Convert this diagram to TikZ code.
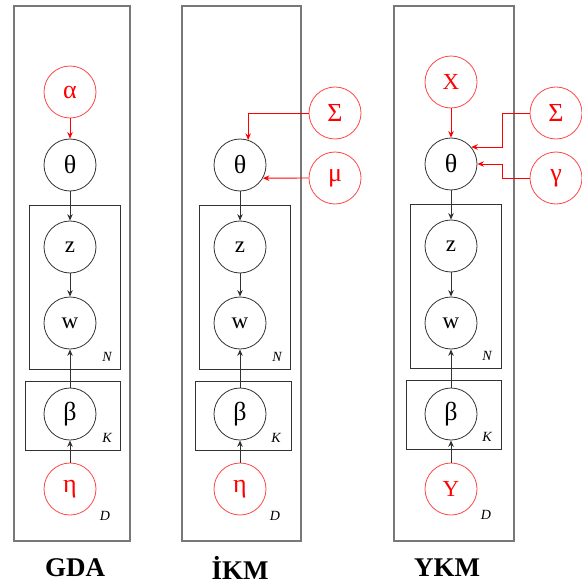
\documentclass[tikz,border=0pt]{standalone}
\usepackage{fontspec}
\setmainfont{Liberation Serif}
\usetikzlibrary{arrows.meta}
\definecolor{rd}{RGB}{255,0,0}
\definecolor{rdl}{RGB}{255,70,70}
\definecolor{outergray}{RGB}{120,120,120}
\definecolor{dk}{RGB}{50,50,50}
\begin{document}
\begin{tikzpicture}[x=1pt,y=-1pt,
  var/.style={circle,draw=dk,line width=0.8pt,minimum size=52pt,inner sep=0pt,font=\fontsize{26}{26}\selectfont},
  latvar/.style={var,font=\fontsize{23}{23}\selectfont},
  hyper/.style={var,draw=rdl,text=rd},
  lathyper/.style={latvar,draw=rdl,text=rd},
  outerplate/.style={draw=outergray,line width=1.6pt},
  plate/.style={draw=dk,line width=1pt},
  lab/.style={font=\fontsize{14}{14}\selectfont\itshape},
  ttl/.style={font=\fontsize{27}{27}\selectfont\bfseries},
  arr/.style={-{Stealth[length=6.5pt,width=5.5pt]},draw=dk,line width=0.9pt},
  rarr/.style={-{Stealth[length=6.5pt,width=5.5pt]},draw=rd,line width=0.9pt}]
\useasboundingbox (0,0) rectangle (581,585);

% ---------- GDA ----------
\draw[outerplate] (14,6) rectangle (130,541);
\draw[plate] (29,205) rectangle (120,369);
\draw[plate] (25.5,381) rectangle (120.5,450);
\node[hyper] (a1) at (70,92) {α};
\node[var] (t1) at (70,165) {θ};
\node[latvar] (z1) at (70,247) {z};
\node[latvar] (w1) at (70,323) {w};
\node[var] (b1) at (70,414) {β};
\node[hyper] (e1) at (70,489) {η};
\node[lab] (n1) at (107,357) {N};
\node[lab] (k1) at (107,438) {K};
\node[lab] (d1) at (105,516) {D};
\node[ttl] (g1) at (75,568) {GDA};
\draw[rarr] (a1) -- (t1);
\draw[arr] (t1) -- (z1);
\draw[arr] (z1) -- (w1);
\draw[arr] (b1) -- (w1);
\draw[arr] (e1) -- (b1);

% ---------- IKM ----------
\draw[outerplate] (182,6) rectangle (301,541);
\draw[plate] (199,205) rectangle (290,369);
\draw[plate] (195,381) rectangle (291,450);
\node[var] (t2) at (240,165) {θ};
\node[latvar] (z2) at (240,247) {z};
\node[latvar] (w2) at (240,323) {w};
\node[var] (b2) at (240,414) {β};
\node[hyper] (e2) at (240,489) {η};
\node[hyper] (s2) at (335,113) {Σ};
\node[hyper] (m2) at (335,178) {μ};
\node[lab] (n2) at (277,357) {N};
\node[lab] (k2) at (276,438) {K};
\node[lab] (d2) at (275,516) {D};
\node[ttl] (g2) at (240,568) {İKM};
\draw[rarr] (s2.west) -| (t2.72);
\draw[rarr] (m2.west) -- (t2.-30);
\draw[arr] (t2) -- (z2);
\draw[arr] (z2) -- (w2);
\draw[arr] (b2) -- (w2);
\draw[arr] (e2) -- (b2);

% ---------- YKM ----------
\draw[outerplate] (394,6) rectangle (514,541);
\draw[plate] (410,204) rectangle (501,368);
\draw[plate] (406,380) rectangle (501,449);
\node[lathyper] (x3) at (451,82) {X};
\node[var] (t3) at (451,164) {θ};
\node[latvar] (z3) at (451,246) {z};
\node[latvar] (w3) at (451,323) {w};
\node[var] (b3) at (451,414) {β};
\node[lathyper] (y3) at (451,489) {Y};
\node[hyper] (s3) at (556,113) {Σ};
\node[hyper] (g3) at (556,178) {γ};
\node[lab] (n3) at (487,356) {N};
\node[lab] (k3) at (487,437) {K};
\node[lab] (d3) at (486,515) {D};
\node[ttl] (tt3) at (447,568) {YKM};
\draw[rarr] (x3) -- (t3);
\draw[rarr] (s3.west) -- ++(-27,0) |- (t3.40);
\draw[rarr] (g3.west) -- ++(-27,0) |- (t3.east);
\draw[arr] (t3) -- (z3);
\draw[arr] (z3) -- (w3);
\draw[arr] (b3) -- (w3);
\draw[arr] (y3) -- (b3);
\end{tikzpicture}
\end{document}
